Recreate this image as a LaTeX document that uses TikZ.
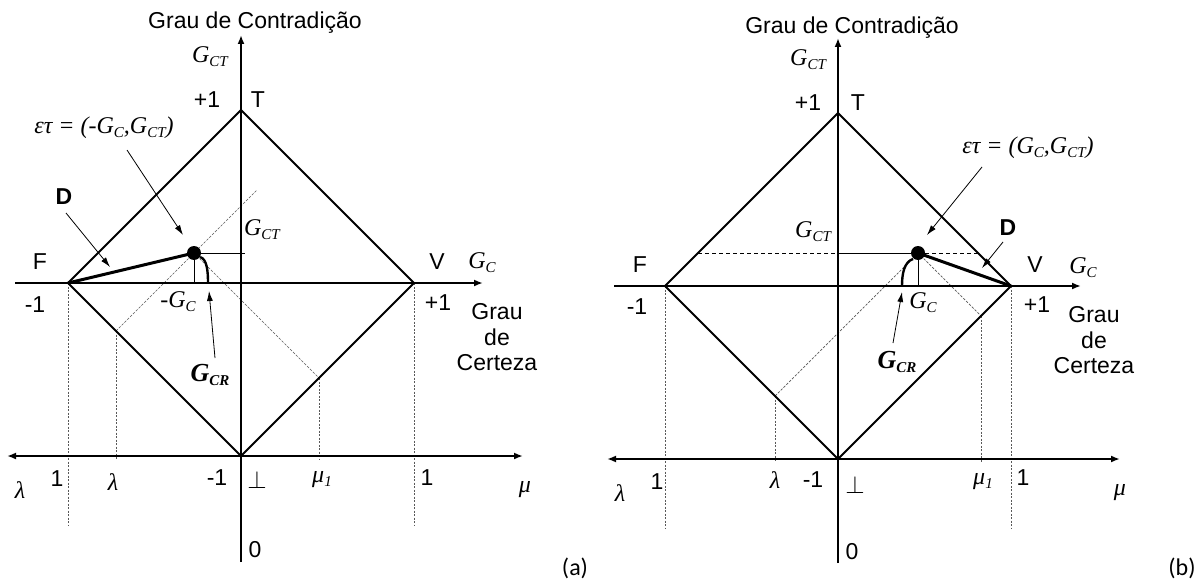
\documentclass[tikz,border=0pt]{standalone}
\usepackage{fontspec}
\setmainfont{Liberation Sans}
\newfontfamily\tnr{Liberation Serif}
\newfontfamily\carl{Carlito}
\usetikzlibrary{arrows.meta}
\newcommand{\lbl}{\fontsize{23}{26}\selectfont}
\newcommand{\mth}{\tnr\itshape\fontsize{24}{27}\selectfont}
\newcommand{\sbs}[1]{\raisebox{-0.35ex}{\fontsize{15}{15}\selectfont #1}}
\tikzset{
 diam/.style={line width=1.8pt, line join=miter},
 axisline/.style={line width=1.8pt},
 guide/.style={line width=0.7pt, black!65, dash pattern=on 2pt off 1.5pt},
 thindash/.style={line width=0.7pt, black!65, dash pattern=on 2.5pt off 1.5pt},
 hdash/.style={line width=0.8pt, dash pattern=on 4pt off 3pt},
 ann/.style={line width=0.8pt, -{Latex[length=10pt,width=6pt]}},
 heavy/.style={line width=3pt},
 proj/.style={line width=0.9pt},
 arc/.style={line width=2.4pt},
 txt/.style={font=\lbl, inner sep=0pt},
 mt/.style={font=\mth, inner sep=0pt},
 bmt/.style={font=\tnr\bfseries\itshape\fontsize{26}{29}\selectfont, inner sep=0pt},
 tag/.style={font=\carl\fontsize{24}{27}\selectfont, inner sep=0pt},
 tipone/.style={-{Latex[length=9pt,width=7pt]}},
 tiptwo/.style={{Latex[length=9pt,width=7pt]}-{Latex[length=9pt,width=7pt]}},
}
\begin{document}
\begin{tikzpicture}[x=1pt,y=1pt]
\useasboundingbox (0,0) rectangle (1197,-583);
\fill[white] (0,0) rectangle (1197,-583);
% ================= panel (a)
\begin{scope}[shift={(241,-283)}]
 \coordinate (Fa) at (-173,0);
 \coordinate (Va) at (173,0);
 \coordinate (Ta) at (0,173);
 \coordinate (Ba) at (0,-173);
 \coordinate (Pa) at (-47,30);
 \coordinate (La) at (-125,-48);
 \coordinate (Ma) at (78,-95);
 \coordinate (Ua) at (16,93);
 \coordinate (Fda) at (-173,-242);
 \coordinate (Vda) at (173,-242);
 \coordinate (Lda) at (-125,-176);
 \coordinate (Mda) at (78,-176);
 \draw[guide] (Fa) -- (Fda);
 \draw[guide] (Va) -- (Vda);
 \draw[guide] (La) -- (Lda);
 \draw[guide] (Ma) -- (Mda);
 \draw[thindash] (La) -- (Ua);
 \draw[thindash] (Pa) -- (Ma);
 \draw[diam] (Fa) -- (Ta) -- (Va) -- (Ba) -- cycle;
 \coordinate (va0) at (0,-279); \coordinate (va1) at (0,248);
 \coordinate (ha0) at (-226,0); \coordinate (ha1) at (242,0);
 \coordinate (ba0) at (-234,-173); \coordinate (ba1) at (282,-173);
 \draw[axisline, tipone] (va0) -- (va1);
 \draw[axisline, tipone] (ha0) -- (ha1);
 \draw[axisline, tiptwo] (ba0) -- (ba1);
 \coordinate (Pxa) at (-47,0); \coordinate (Pya) at (4,30);
 \draw[proj] (Pa) -- (Pxa);
 \draw[proj] (Pa) -- (Pya);
 \coordinate (ca0) at (-41,26); \coordinate (ca1) at (-33,0);
 \draw[arc] (ca0) .. controls (-34,24) and (-33,12) .. (ca1);
 \draw[heavy] (Fa) -- (Pa);
 \fill (Pa) circle (7);
 % labels
 \node[txt] (titlea) at (14,260) {Grau de Contradição};
 \node[mt] (gcta) at (-31,226) {G\sbs{CT}};
 \node[txt] (p1a) at (-34,183) {+1};
 \node[txt] (tla) at (17,183) {T};
 \node[mt] (eta) at (-137,155) {ετ = (-G\sbs{C},G\sbs{CT})};
 \coordinate (ea0) at (-114,133); \coordinate (ea1) at (-58,48);
 \draw[ann] (ea0) -- (ea1);
 \node[txt, font=\lbl\bfseries] (dla) at (-177,86) {D};
 \coordinate (da0) at (-175,70); \coordinate (da1) at (-131,16);
 \draw[ann] (da0) -- (da1);
 \node[mt] (gctma) at (21,53) {G\sbs{CT}};
 \node[txt] (fla) at (-201,21) {F};
 \node[txt] (m1a) at (-206,-22) {-1};
 \node[mt] (gcna) at (-63,-19) {-G\sbs{C}};
 \node[bmt] (gcra) at (-31,-92) {G\sbs{CR}};
 \coordinate (ga0) at (-26,-75); \coordinate (ga1) at (-32,-8);
 \draw[ann] (ga0) -- (ga1);
 \node[txt] (vla) at (196,21) {V};
 \node[mt] (gcra2) at (241,20) {G\sbs{C}};
 \node[txt] (p1ra) at (197,-20) {+1};
 \node[txt] (g1a) at (256,-29) {Grau};
 \node[txt] (g2a) at (256,-54) {de};
 \node[txt] (g3a) at (256,-80) {Certeza};
 \node[mt] (lam1a) at (-221,-207) {λ};
 \node[txt] (one1a) at (-184,-196) {1};
 \node[mt] (lam2a) at (-128,-199) {λ};
 \node[txt] (mo1a) at (-24,-195) {-1};
 \node[inner sep=0pt, font=\fontsize{23}{26}\selectfont] (bota) at (16,-197) {$\perp$};
 \node[mt] (mu1a) at (81,-197) {μ\sbs{1}};
 \node[txt] (one2a) at (186,-195) {1};
 \node[mt] (mua) at (284,-207) {μ};
 \node[txt] (zeroa) at (14,-267) {0};
 \node[tag] (taga) at (334,-285) {(a)};
\end{scope}
% ================= panel (b)
\begin{scope}[shift={(838,-286)}]
 \coordinate (Fb) at (-173,0);
 \coordinate (Vb) at (173,0);
 \coordinate (Tb) at (0,173);
 \coordinate (Bb) at (0,-173);
 \coordinate (Pb) at (80,33);
 \coordinate (Lb) at (-63,-110);
 \coordinate (Mb) at (143,-30);
 \coordinate (Fdb) at (-173,-242);
 \coordinate (Vdb) at (173,-242);
 \coordinate (Ldb) at (-63,-176);
 \coordinate (Mdb) at (143,-176);
 \draw[guide] (Fb) -- (Fdb);
 \draw[guide] (Vb) -- (Vdb);
 \draw[guide] (Lb) -- (Ldb);
 \draw[guide] (Mb) -- (Mdb);
 \draw[thindash] (Lb) -- (Pb);
 \draw[thindash] (Pb) -- (Mb);
 \coordinate (hl) at (-140,33); \coordinate (hm) at (0,33); \coordinate (hr) at (140,33);
 \draw[hdash] (hl) -- (hm);
 \draw[hdash] (Pb) -- (hr);
 \draw[diam] (Fb) -- (Tb) -- (Vb) -- (Bb) -- cycle;
 \coordinate (vb0) at (0,-277); \coordinate (vb1) at (0,248);
 \coordinate (hb0) at (-224,0); \coordinate (hb1) at (243,0);
 \coordinate (bb0) at (-231,-173); \coordinate (bb1) at (282,-173);
 \draw[axisline, tipone] (vb0) -- (vb1);
 \draw[axisline, tipone] (hb0) -- (hb1);
 \draw[axisline, tiptwo] (bb0) -- (bb1);
 \coordinate (Pxb) at (80,0);
 \draw[proj] (Pb) -- (Pxb);
 \draw[proj] (hm) -- (Pb);
 \coordinate (cb0) at (75,27); \coordinate (cb1) at (64,0);
 \draw[arc] (cb0) .. controls (66,24) and (64,12) .. (cb1);
 \draw[heavy] (Pb) -- (Vb);
 \fill (Pb) circle (7);
 % labels
 \node[txt] (titleb) at (14,258) {Grau de Contradição};
 \node[mt] (gctb) at (-30,226) {G\sbs{CT}};
 \node[txt] (p1b) at (-30,183) {+1};
 \node[txt] (tlb) at (20,183) {T};
 \node[mt] (etb) at (190,138) {ετ = (G\sbs{C},G\sbs{CT})};
 \coordinate (eb0) at (144,119); \coordinate (eb1) at (89,51);
 \draw[ann] (eb0) -- (eb1);
 \node[txt, font=\lbl\bfseries] (dlb) at (170,58) {D};
 \coordinate (db0) at (165,44); \coordinate (db1) at (144,18);
 \draw[ann] (db0) -- (db1);
 \node[mt] (gctmb) at (-25,54) {G\sbs{CT}};
 \node[txt] (flb) at (-198,21) {F};
 \node[txt] (m1b) at (-201,-21) {-1};
 \node[mt] (gcb) at (85,-17) {G\sbs{C}};
 \node[bmt] (gcrb) at (59,-76) {G\sbs{CR}};
 \coordinate (gb0) at (55,-57); \coordinate (gb1) at (64,-6);
 \draw[ann] (gb0) -- (gb1);
 \node[txt] (vlb) at (197,21) {V};
 \node[mt] (gcrb2) at (245,18) {G\sbs{C}};
 \node[txt] (p1rb) at (199,-19) {+1};
 \node[txt] (g1b) at (256,-29) {Grau};
 \node[txt] (g2b) at (256,-54) {de};
 \node[txt] (g3b) at (256,-80) {Certeza};
 \node[mt] (lam1b) at (-218,-207) {λ};
 \node[txt] (one1b) at (-181,-196) {1};
 \node[mt] (lam2b) at (-63,-194) {λ};
 \node[txt] (mo1b) at (-25,-194) {-1};
 \node[inner sep=0pt, font=\fontsize{23}{26}\selectfont] (botb) at (17,-199) {$\perp$};
 \node[mt] (mu1b) at (145,-196) {μ\sbs{1}};
 \node[txt] (one2b) at (185,-192) {1};
 \node[mt] (mub) at (282,-207) {μ};
 \node[txt] (zerob) at (14,-266) {0};
 \node[tag] (tagb) at (344,-282) {(b)};
\end{scope}
\end{tikzpicture}
\end{document}
